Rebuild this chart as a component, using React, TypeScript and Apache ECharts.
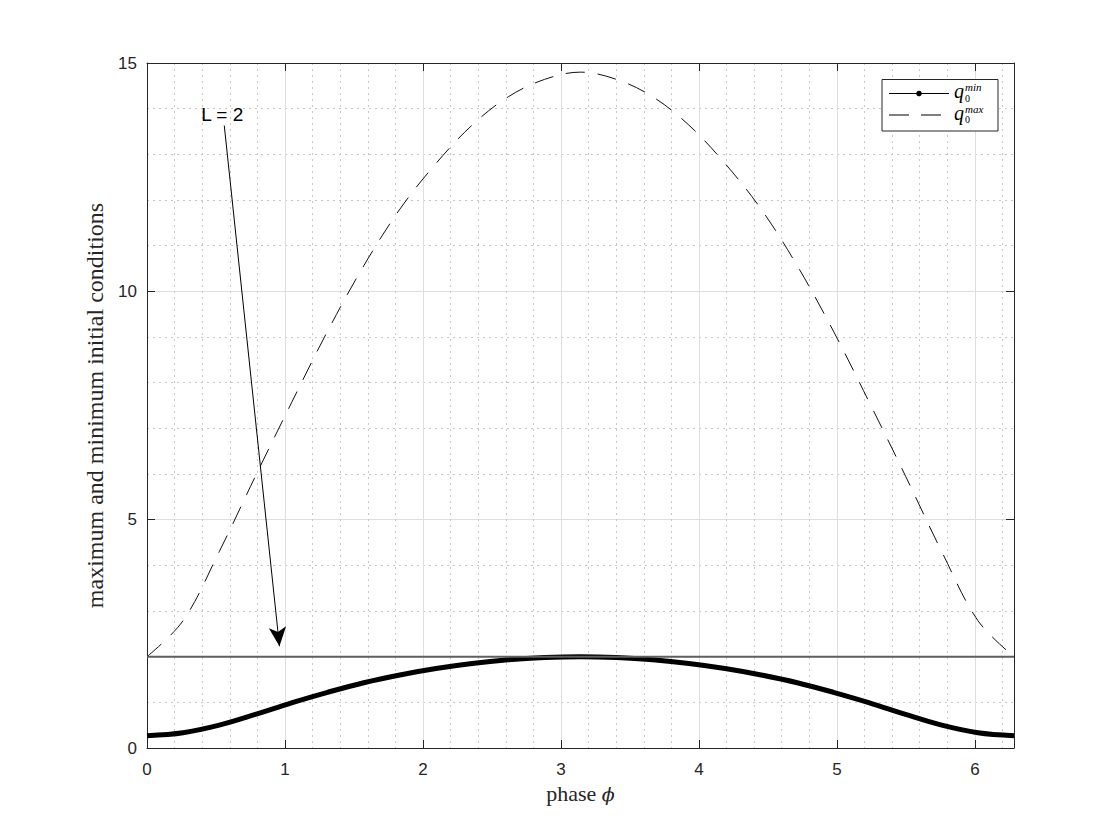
import React, { useEffect, useRef } from 'react';
import * as echarts from 'echarts';

// phase samples (x): k·π/12, k = 0..24
const phase = [0, 0.2618, 0.5236, 0.7854, 1.0472, 1.309, 1.5708, 1.8326, 2.0944, 2.3562, 2.618, 2.8798, 3.1416, 3.4034, 3.6652, 3.927, 4.1888, 4.4506, 4.7124, 4.9742, 5.236, 5.4978, 5.7596, 6.0214, 6.2832];
// q0 min (thick solid curve)
const qMin = [0.27, 0.335, 0.5, 0.735, 0.99, 1.22, 1.43, 1.6, 1.74, 1.85, 1.93, 1.98, 2.0, 1.98, 1.93, 1.85, 1.74, 1.6, 1.43, 1.22, 0.99, 0.735, 0.5, 0.335, 0.27];
// q0 max (dashed curve)
const qMax = [2.0, 2.79, 4.3, 5.95, 7.56, 9.13, 10.56, 11.8, 12.8, 13.64, 14.26, 14.64, 14.8, 14.64, 14.26, 13.64, 12.8, 11.8, 10.56, 9.13, 7.56, 5.95, 4.3, 2.79, 2.0];
// level line L = 2
const lLevel = 2;
const lPhase = [0, 6.2832];
// annotation
const annotationText = 'L = 2';
const annotationTextAt = [0.545, 13.88];
const arrowFrom = [0.56, 13.63];
const arrowTo = [0.96, 2.23];
// axes
const xMin = 0;
const xMax = 6.2832;
const xInterval = 1;
const yMin = 0;
const yMax = 15;
const yInterval = 5;
const xTitle = 'phase';
const xSymbol = 'ϕ';
const yTitle = 'maximum and minimum initial conditions';
const legendNames = ['min', 'max'];

const AX = '#262626';

export default function App() {
  const ref = useRef<HTMLDivElement>(null);
  useEffect(() => {
    const chart = echarts.init(ref.current!, null, { renderer: 'svg' });
    const minData = phase.map((p, i) => [p, qMin[i]]);
    const maxData = phase.map((p, i) => [p, qMax[i]]);
    const lData = lPhase.map((p) => [p, lLevel]);

    const baseAxisLine = { show: true, onZero: false, lineStyle: { color: AX, width: 1 } };
    const tick = { show: true, inside: true, length: 8, lineStyle: { color: AX, width: 1 } };

    const legendRow = (y: number, sup: string) => [
      { type: 'text', z: 102, style: { text: 'q', x: 954, y: y - 2.5, fontFamily: 'Liberation Serif', fontStyle: 'italic', fontSize: 20, fill: '#000', verticalAlign: 'middle' } },
      { type: 'text', z: 102, style: { text: sup, x: 965, y: y - 6.5, fontFamily: 'Liberation Serif', fontStyle: 'italic', fontSize: 11, fill: '#000', verticalAlign: 'middle' } },
      { type: 'text', z: 102, style: { text: '0', x: 965, y: y + 4.5, fontFamily: 'Liberation Serif', fontSize: 10, fill: '#000', verticalAlign: 'middle' } },
    ];

    chart.setOption({
      animation: false,
      backgroundColor: '#fff',
      grid: { left: 147, right: 106, top: 63, bottom: 92, containLabel: false },
      xAxis: [
        {
          type: 'value', min: xMin, max: xMax, interval: xInterval,
          name: `{r|${xTitle} }{i|${xSymbol}}`,
          nameLocation: 'middle', nameGap: 30,
          nameTextStyle: {
            rich: {
              r: { fontFamily: 'Liberation Serif', fontSize: 22, color: AX },
              i: { fontFamily: 'DejaVu Serif', fontStyle: 'italic', fontSize: 19, color: AX },
            },
          },
          axisLine: baseAxisLine,
          axisTick: tick,
          axisLabel: {
            show: true, margin: 13, color: AX, fontFamily: 'Liberation Sans', fontSize: 17, showMaxLabel: false,
            formatter: (v: number) => (Number.isInteger(v) ? String(v) : ''),
          },
          splitLine: { show: true, lineStyle: { color: '#dedede', width: 1 } },
          minorTick: { show: false, splitNumber: 5 },
          minorSplitLine: { show: true, lineStyle: { color: '#c6c6c6', width: 1, type: [2, 4] } },
        },
        {
          type: 'value', min: xMin, max: xMax, interval: xInterval, position: 'top',
          axisLine: baseAxisLine, axisTick: tick, axisLabel: { show: false }, splitLine: { show: false },
        },
      ],
      yAxis: [
        {
          type: 'value', min: yMin, max: yMax, interval: yInterval,
          name: yTitle, nameLocation: 'middle', nameGap: 40,
          nameTextStyle: { fontFamily: 'Liberation Serif', fontSize: 24, color: AX },
          axisLine: baseAxisLine,
          axisTick: tick,
          axisLabel: { show: true, margin: 10, color: AX, fontFamily: 'Liberation Sans', fontSize: 17 },
          splitLine: { show: true, lineStyle: { color: '#dedede', width: 1 } },
          minorTick: { show: false, splitNumber: 5 },
          minorSplitLine: { show: true, lineStyle: { color: '#c6c6c6', width: 1, type: [2, 4] } },
        },
        {
          type: 'value', min: yMin, max: yMax, interval: yInterval, position: 'right',
          axisLine: baseAxisLine, axisTick: tick, axisLabel: { show: false }, splitLine: { show: false },
        },
      ],
      series: [
        {
          name: legendNames[0], type: 'line', data: minData, smooth: 0.35, showSymbol: false, symbol: 'none',
          lineStyle: { color: '#000', width: 5 }, z: 5,
        },
        {
          name: legendNames[1], type: 'line', data: maxData, smooth: 0.35, showSymbol: false, symbol: 'none',
          lineStyle: { color: '#111', width: 1, type: [19, 13] }, z: 4,
        },
        {
          name: 'L', type: 'line', data: lData, showSymbol: false, symbol: 'none',
          lineStyle: { color: '#5e5e5e', width: 2 }, z: 6,
          markLine: {
            silent: true, animation: false,
            symbol: ['none', 'arrow'], symbolSize: [13, 19],
            lineStyle: { color: '#000', width: 1, type: 'solid' },
            label: { show: false },
            data: [[{ coord: arrowFrom }, { coord: arrowTo }]],
          },
          markPoint: {
            silent: true, symbol: 'circle', symbolSize: 0,
            label: { show: true, position: 'inside', formatter: annotationText, color: '#000', fontFamily: 'Liberation Sans', fontSize: 19 },
            data: [{ coord: annotationTextAt }],
          },
        },
      ],
      graphic: [
        { type: 'rect', z: 100, shape: { x: 882, y: 79.5, width: 116, height: 51.5 }, style: { fill: '#fff', stroke: AX, lineWidth: 1 } },
        { type: 'line', z: 101, shape: { x1: 889, y1: 93.5, x2: 949, y2: 93.5 }, style: { stroke: '#000', lineWidth: 1.2 } },
        { type: 'circle', z: 101, shape: { cx: 919, cy: 93.5, r: 2.8 }, style: { fill: '#000' } },
        { type: 'line', z: 101, shape: { x1: 889, y1: 115, x2: 949, y2: 115 }, style: { stroke: '#000', lineWidth: 1, lineDash: [20, 12] } },
        ...legendRow(93.5, legendNames[0]),
        ...legendRow(115, legendNames[1]),
      ],
    });
    return () => chart.dispose();
  }, []);
  return <div ref={ref} style={{ position: 'fixed', left: 0, top: 0, width: 1120, height: 840, background: '#fff' }} />;
}
